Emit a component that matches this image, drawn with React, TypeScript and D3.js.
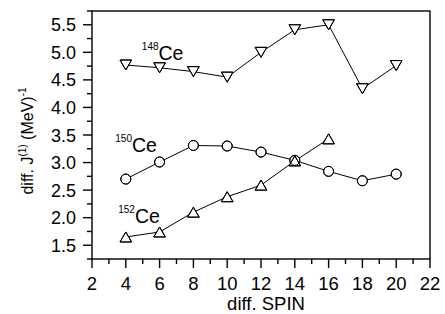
import React from "react";
import * as d3 from "d3";

const spins148 = [4, 6, 8, 10, 12, 14, 16, 18, 20];
const vals148 = [4.77, 4.72, 4.65, 4.55, 5.0, 5.41, 5.5, 4.34, 4.76];
const spins150 = [4, 6, 8, 10, 12, 14, 16, 18, 20];
const vals150 = [2.7, 3.01, 3.31, 3.3, 3.19, 3.04, 2.84, 2.67, 2.79];
const spins152 = [4, 6, 8, 10, 12, 14, 16];
const vals152 = [1.65, 1.74, 2.1, 2.38, 2.59, 3.03, 3.43];
const xTicks = [2, 4, 6, 8, 10, 12, 14, 16, 18, 20, 22];
const yTicks = [1.5, 2.0, 2.5, 3.0, 3.5, 4.0, 4.5, 5.0, 5.5];
const seriesLabels = [
  { mass: "148", x: 4.95, y: 4.86 },
  { mass: "150", x: 3.38, y: 3.19 },
  { mass: "152", x: 3.55, y: 1.9 },
];

const W = 445, H = 314;
const L = 92, R = 430, T = 11, B = 259;
const FONT = "Liberation Sans, Arial, sans-serif";

export default function App() {
  const x = d3.scaleLinear().domain([2, 22]).range([L, R]);
  const y = d3.scaleLinear().domain([1.25, 5.75]).range([B, T]);
  const line = d3.line<[number, number]>().x(d => x(d[0])).y(d => y(d[1]));

  const s148 = spins148.map((s, i) => [s, vals148[i]] as [number, number]);
  const s150 = spins150.map((s, i) => [s, vals150[i]] as [number, number]);
  const s152 = spins152.map((s, i) => [s, vals152[i]] as [number, number]);

  const hw = 5.8, hh = 5;
  const down = (px: number, py: number) => `M${px - hw},${py - hh}L${px + hw},${py - hh}L${px},${py + hh}Z`;
  const up = (px: number, py: number) => `M${px - hw},${py + hh}L${px + hw},${py + hh}L${px},${py - hh}Z`;

  const markers = (fill: string) => (
    <g fill={fill} stroke="#000" strokeWidth={1}>
      {s148.map((d, i) => <path key={"a" + i} d={down(x(d[0]), y(d[1]))} />)}
      {s150.map((d, i) => <circle key={"b" + i} cx={x(d[0])} cy={y(d[1])} r={5} />)}
      {s152.map((d, i) => <path key={"c" + i} d={up(x(d[0]), y(d[1]))} />)}
    </g>
  );

  const xMinor = d3.range(3, 22, 2);
  const yMinor = d3.range(1.25, 5.76, 0.25).filter(v => Math.abs(v * 2 - Math.round(v * 2)) > 0.01);

  return (
    <svg width={W} height={H} style={{ position: "absolute", left: 0, top: 0, background: "#fff" }} fontFamily={FONT}>
      <rect x={0} y={0} width={W} height={H} fill="#fff" />
      <g fill="none" stroke="#000" strokeWidth={1}>
        <path d={line(s148) || ""} />
        <path d={line(s150) || ""} />
        <path d={line(s152) || ""} />
      </g>
      {markers("#fff")}
      {markers("none")}
      <rect x={L} y={T} width={R - L} height={B - T} fill="none" stroke="#000" strokeWidth={1.4} />
      <g stroke="#000" strokeWidth={1.4}>
        {xTicks.map(t => <line key={"xt" + t} x1={x(t)} x2={x(t)} y1={B} y2={B + 9} />)}
        {xMinor.map(t => <line key={"xm" + t} x1={x(t)} x2={x(t)} y1={B} y2={B + 5} />)}
        {yTicks.map(t => <line key={"yt" + t} x1={L - 9} x2={L} y1={y(t)} y2={y(t)} />)}
        {yMinor.map(t => <line key={"ym" + t} x1={L - 5} x2={L} y1={y(t)} y2={y(t)} />)}
      </g>
      <g fontSize={18.5} fill="#000">
        {xTicks.map(t => (
          <text key={"xl" + t} x={x(t)} y={289.5} textAnchor="middle">{t}</text>
        ))}
      </g>
      <g fontSize={18} fill="#000">
        {yTicks.map(t => (
          <text key={"yl" + t} x={L - 16} y={y(t) + 6.5} textAnchor="end">{t.toFixed(1)}</text>
        ))}
      </g>
      <text x={266} y={310} textAnchor="middle" fontSize={18.5}>diff. SPIN</text>
      <text transform={`translate(33,${141}) rotate(-90)`} textAnchor="middle" fontSize={16}>
        diff. J<tspan fontSize={10} dy={-7}>(1)</tspan><tspan dy={7}> (MeV)</tspan><tspan fontSize={10} dy={-7}>-1</tspan>
      </text>
      {seriesLabels.map(l => (
        <text key={l.mass} x={x(l.x)} y={y(l.y)} fontSize={19.5}>
          <tspan fontSize={10} dy={-10}>{l.mass}</tspan><tspan dy={10}>Ce</tspan>
        </text>
      ))}
    </svg>
  );
}
